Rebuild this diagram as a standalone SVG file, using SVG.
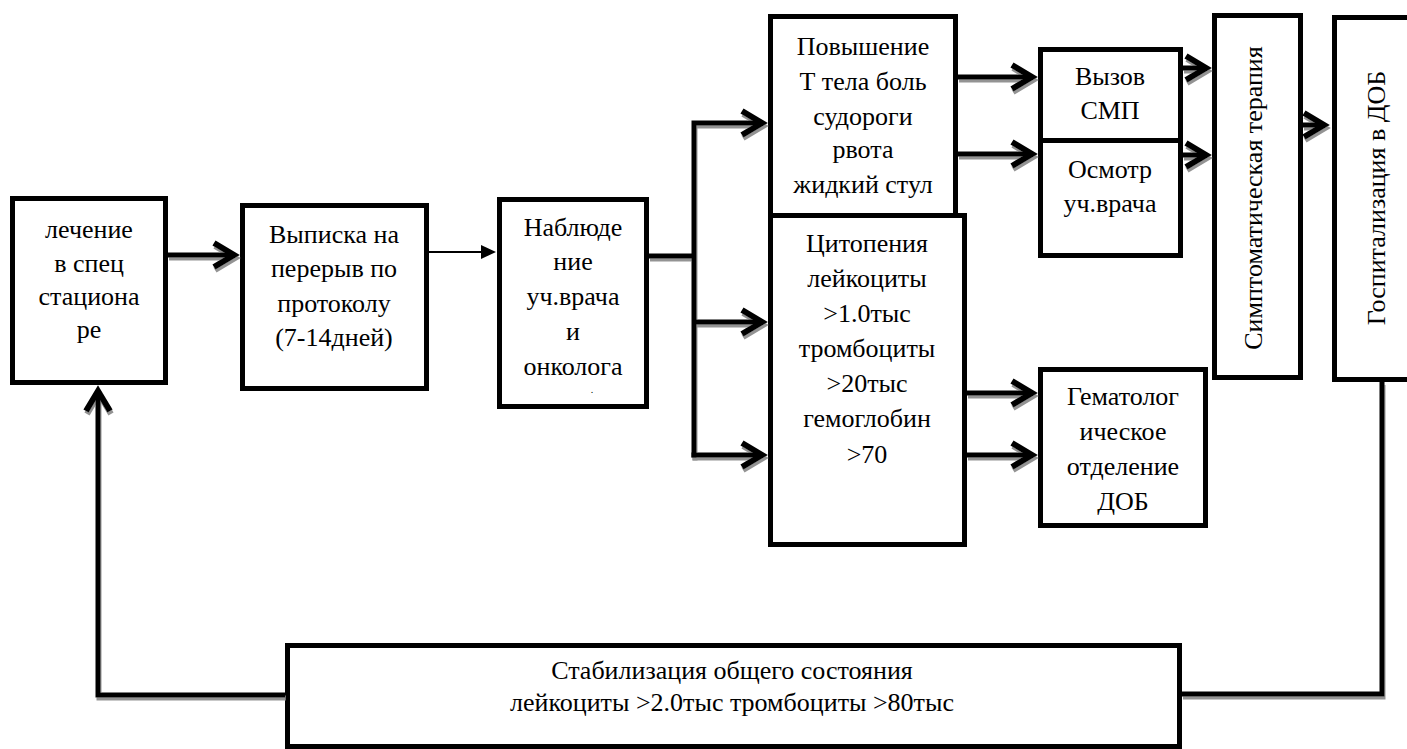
<svg xmlns="http://www.w3.org/2000/svg" width="1407" height="749" viewBox="0 0 1407 749">
<style>
.box{fill:#fff;stroke:#000;stroke-width:5}
.t{font-family:'Liberation Serif','Times New Roman',serif;font-size:26px;fill:#000;text-anchor:middle}
.c{fill:none;stroke:#000;stroke-width:5;stroke-linejoin:miter;stroke-linecap:butt}
.thin{fill:none;stroke:#000;stroke-width:2}
</style>
<defs>
<filter id="sh" x="-10%" y="-10%" width="130%" height="130%">
<feDropShadow dx="1" dy="3" stdDeviation="0.7" flood-color="#808080" flood-opacity="0.85"/>
</filter>
<marker id="chev" markerUnits="userSpaceOnUse" viewBox="0 0 34 30" markerWidth="34" markerHeight="30" refX="25" refY="15" orient="auto" overflow="visible">
<path d="M4,3 L24,15 L4,27" fill="none" stroke="#000" stroke-width="6" stroke-linejoin="miter"/>
</marker>
<marker id="tri" markerUnits="userSpaceOnUse" viewBox="0 0 15 14" markerWidth="15" markerHeight="14" refX="1" refY="7" orient="auto">
<path d="M0,0 L15,7 L0,14 z" fill="#000"/>
</marker>
</defs>
<g id="n1"><rect class="box" x="12.5" y="198.5" width="153" height="184"/>
<text class="t" x="89" y="238">лечение</text><text class="t" x="89" y="272">в спец</text><text class="t" x="89" y="305">стациона</text><text class="t" x="89" y="338">ре</text></g>
<g id="n2"><rect class="box" x="242.5" y="205.5" width="184" height="183"/>
<text class="t" x="334" y="243">Выписка на</text><text class="t" x="334" y="277">перерыв по</text><text class="t" x="334" y="312">протоколу</text><text class="t" x="334" y="346">(7-14дней)</text></g>
<g id="n3"><rect class="box" x="499.5" y="199.5" width="147" height="207"/>
<text class="t" x="573" y="236">Наблюде</text><text class="t" x="573" y="270">ние</text><text class="t" x="573" y="305">уч.врача</text><text class="t" x="573" y="340">и</text><text class="t" x="573" y="375">онколога</text><text class="t" x="592" y="393" style="font-size:10px">.</text></g>
<g id="n4"><rect class="box" x="770.5" y="16.5" width="185" height="199"/>
<text class="t" x="863" y="55">Повышение</text><text class="t" x="863" y="90">Т тела боль</text><text class="t" x="863" y="125">судороги</text><text class="t" x="863" y="158">рвота</text><text class="t" x="863" y="193">жидкий стул</text></g>
<g id="n5"><rect class="box" x="770.5" y="215.5" width="194" height="329"/>
<text class="t" x="867" y="252">Цитопения</text><text class="t" x="867" y="287">лейкоциты</text><text class="t" x="867" y="322">&gt;1.0тыс</text><text class="t" x="867" y="357">тромбоциты</text><text class="t" x="867" y="392">&gt;20тыс</text><text class="t" x="867" y="427">гемоглобин</text><text class="t" x="867" y="463">&gt;70</text></g>
<g id="n6"><rect class="box" x="1040.5" y="49.5" width="140" height="91"/>
<text class="t" x="1110" y="85">Вызов</text><text class="t" x="1110" y="119">СМП</text></g>
<g id="n7"><rect class="box" x="1040.5" y="140.5" width="140" height="115"/>
<text class="t" x="1110" y="178">Осмотр</text><text class="t" x="1110" y="212">уч.врача</text></g>
<g id="n8"><rect class="box" x="1214.5" y="15.5" width="86" height="362"/>
<text class="t" transform="translate(1262,198) rotate(-90)" x="0" y="0">Симптоматическая терапия</text></g>
<g id="n9"><rect class="box" x="1334.5" y="17.5" width="90" height="362"/>
<text class="t" transform="translate(1385,198) rotate(-90)" x="0" y="0">Госпитализация в ДОБ</text></g>
<g id="n10"><rect class="box" x="1040.5" y="369.5" width="165" height="156"/>
<text class="t" x="1123" y="405">Гематолог</text><text class="t" x="1123" y="440">ическое</text><text class="t" x="1123" y="475">отделение</text><text class="t" x="1123" y="510">ДОБ</text></g>
<g id="n11"><rect class="box" x="287.5" y="645.5" width="892" height="101"/>
<text class="t" x="732" y="679">Стабилизация общего состояния</text><text class="t" x="732" y="711">лейкоциты &gt;2.0тыс тромбоциты &gt;80тыс</text></g>
<g id="connectors">
<path class="thin" d="M429,252 H482" marker-end="url(#tri)"/>
<g filter="url(#sh)">
<path class="c" d="M168,255 H235" marker-end="url(#chev)"/>
<path class="c" d="M649,256 H694"/>
<path class="c" d="M694,457.5 V123 H763" marker-end="url(#chev)"/>
<path class="c" d="M694,322 H763" marker-end="url(#chev)"/>
<path class="c" d="M691.5,455 H763" marker-end="url(#chev)"/>
<path class="c" d="M958,77 H1033" marker-end="url(#chev)"/>
<path class="c" d="M958,154 H1033" marker-end="url(#chev)"/>
<path class="c" d="M1183,68 H1207" marker-end="url(#chev)"/>
<path class="c" d="M1183,155 H1207" marker-end="url(#chev)"/>
<path class="c" d="M1303,125 H1325" marker-end="url(#chev)"/>
<path class="c" d="M967,393 H1033" marker-end="url(#chev)"/>
<path class="c" d="M967,455 H1033" marker-end="url(#chev)"/>
<path class="c" d="M1382,382 V694 H1182"/>
<path class="c" d="M285,695 H98 V390" marker-end="url(#chev)"/>
</g>
</g>
</svg>
